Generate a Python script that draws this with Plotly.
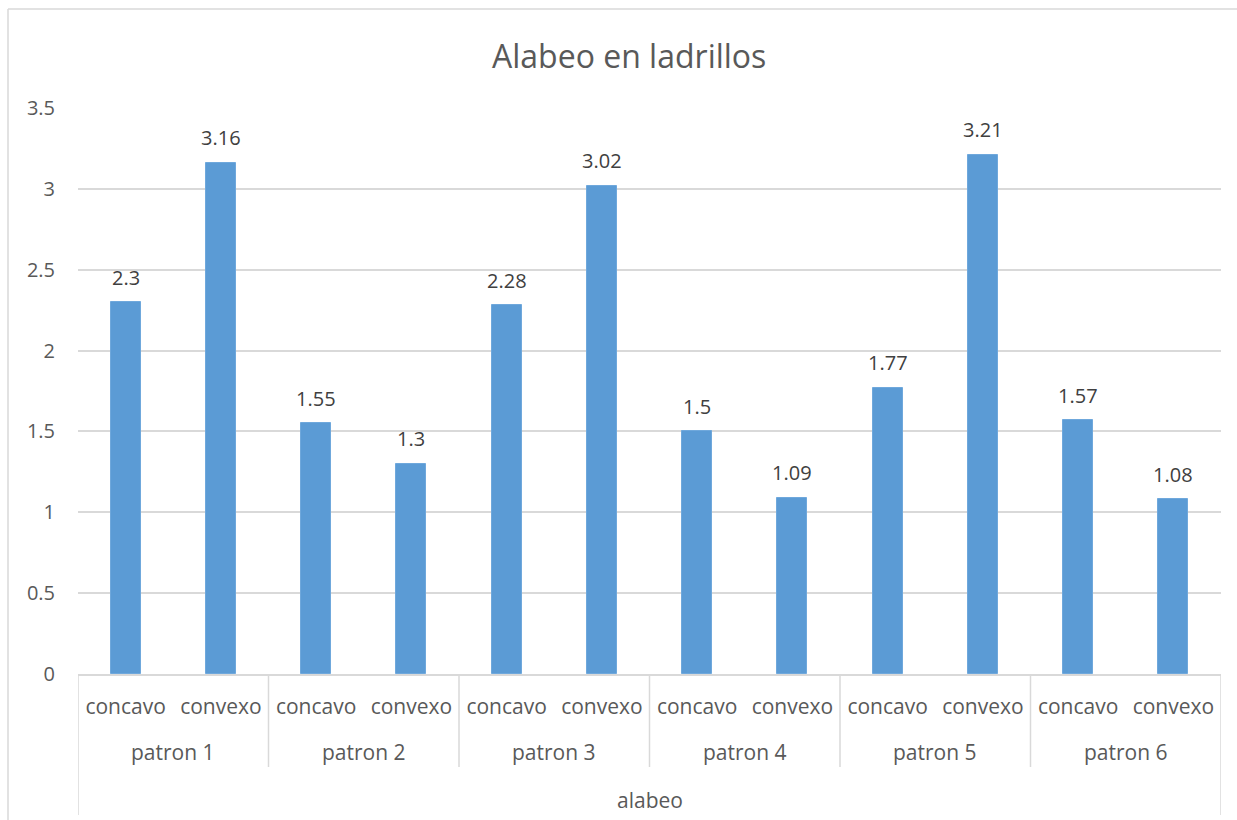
import plotly.graph_objects as go

# Warping measurements per brick pattern
patrones = ["patron 1", "patron 2", "patron 3", "patron 4", "patron 5", "patron 6"]
tipos = ["concavo", "convexo"]
concavo = [2.3, 1.55, 2.28, 1.5, 1.77, 1.57]
convexo = [3.16, 1.3, 3.02, 1.09, 3.21, 1.08]
grupo = "alabeo"
titulo = "Alabeo en ladrillos"
y_ticks = [0, 0.5, 1, 1.5, 2, 2.5, 3, 3.5]

W, H = 1237, 820
ML, MR, MT, MB = 78, 16, 108, 146
PW, PH = W - ML - MR, H - MT - MB

FONT = "Open Sans"
TXT = "#595959"
LINE = "#D9D9D9"
BAR = "#5B9BD5"
FS = 20
FSX = 21

# Flatten into 12 categories: (pattern, type)
valores, etiquetas = [], []
for c, v in zip(concavo, convexo):
    valores += [c, v]
    etiquetas += tipos
xs = list(range(len(valores)))


def fmt(v):
    return f"{v:g}"


fig = go.Figure(go.Bar(
    x=xs, y=valores, width=0.315,
    marker=dict(color=BAR, line=dict(color="#6FA8DC", width=1)),
))


def px_x(p):
    return (p - ML) / PW


def px_y(p):
    return (H - MB - p) / PH


shapes = []
# chart frame (left and top edges)
shapes.append(dict(type="line", xref="paper", yref="paper",
                   x0=px_x(8), x1=px_x(8), y0=px_y(9), y1=px_y(830),
                   line=dict(color=LINE, width=1.5)))
shapes.append(dict(type="line", xref="paper", yref="paper",
                   x0=px_x(8), x1=px_x(1245), y0=px_y(9), y1=px_y(9),
                   line=dict(color=LINE, width=1.5)))
# multi-level category separators
n = len(patrones)
for i in range(n + 1):
    xb = 2 * i - 0.5
    bottom = 815 if i in (0, n) else 767
    shapes.append(dict(type="line", xref="x", yref="paper",
                       x0=xb, x1=xb, y0=0, y1=px_y(bottom),
                       line=dict(color=LINE, width=1.5)))

annotations = []
# value labels above each bar
for x, v in zip(xs, valores):
    annotations.append(dict(x=x, xref="x", y=v, yref="y", text=fmt(v),
                            showarrow=False, yanchor="middle", yshift=25,
                            font=dict(family=FONT, size=FS, color="#404040")))
for i, p in enumerate(patrones):
    annotations.append(dict(x=2 * i + 0.5, xref="x", y=px_y(752), yref="paper",
                            text=p, showarrow=False, yanchor="middle",
                            font=dict(family=FONT, size=FSX, color=TXT)))
annotations.append(dict(x=(len(xs) - 1) / 2, xref="x", y=px_y(800), yref="paper",
                        text=grupo, showarrow=False, yanchor="middle",
                        font=dict(family=FONT, size=FSX, color=TXT)))
annotations.append(dict(x=px_x(629), xref="paper", y=px_y(55), yref="paper",
                        text=titulo, showarrow=False, yanchor="middle",
                        xanchor="center",
                        font=dict(family=FONT, size=32, color=TXT)))

fig.update_layout(
    width=W, height=H,
    margin=dict(l=ML, r=MR, t=MT, b=MB),
    paper_bgcolor="white", plot_bgcolor="white",
    showlegend=False, bargap=0,
    shapes=shapes, annotations=annotations,
    xaxis=dict(range=[-0.5, len(xs) - 0.5], tickmode="array",
               tickvals=xs, ticktext=etiquetas, ticks="",
               showgrid=False, zeroline=False, showline=True,
               linecolor=LINE, linewidth=1.5, ticklabelstandoff=13,
               tickfont=dict(family=FONT, size=FSX, color=TXT)),
    yaxis=dict(range=[0, 3.5], tickmode="array", tickvals=y_ticks,
               ticktext=[fmt(t) for t in y_ticks], showgrid=True,
               gridcolor=LINE, gridwidth=1.5, zeroline=False, showline=False,
               ticks="", ticklabelstandoff=22,
               tickfont=dict(family=FONT, size=FS, color=TXT)),
)

fig.write_html("out.html")
